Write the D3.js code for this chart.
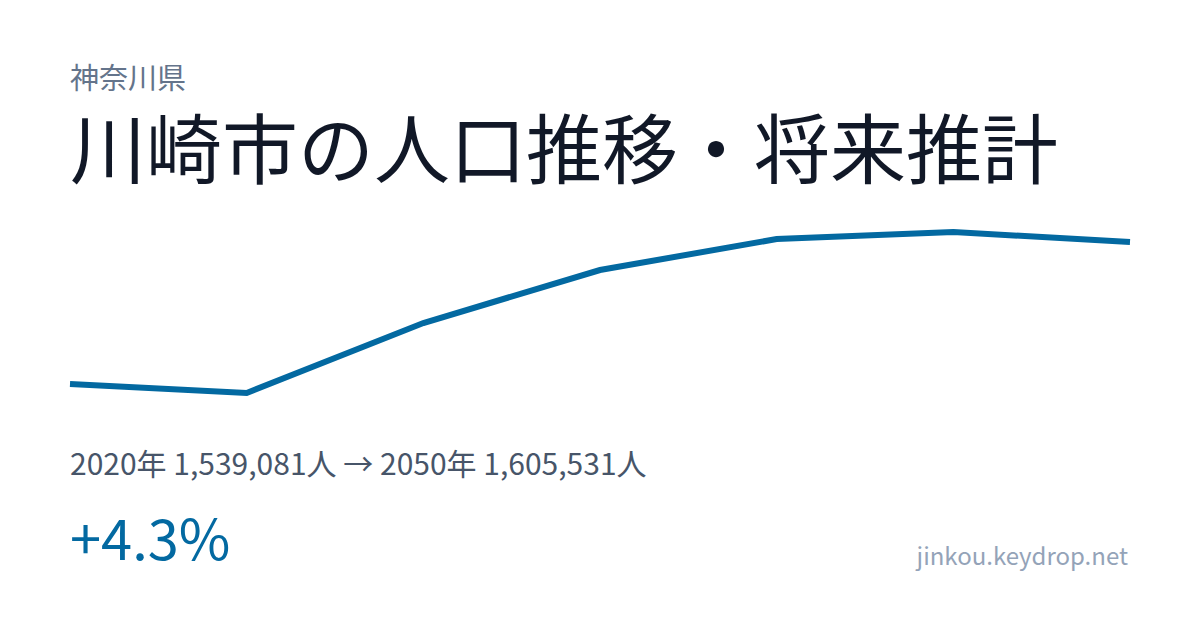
<!DOCTYPE html>
<html>
  <head>
    <meta charset="utf-8" />
    <style>
      body {
        margin: 0;
        background: #fff;
      }
      svg text {
        font-family: "Noto Sans CJK JP", "Noto Sans", sans-serif;
      }
    </style>
  </head>
  <body>
    <svg width="1200" height="630"></svg>
    <script src="https://d3js.org/d3.v7.min.js"></script>
    <script>
      // population by year (ends are given in the text)
      const years = [2020, 2025, 2030, 2035, 2040, 2045, 2050];
      const population = [1539081, 1534870, 1567630, 1592430, 1606940, 1610220, 1605531];

      const prefecture = "神奈川県";
      const title = "川崎市の人口推移・将来推計";
      const siteName = "jinkou.keydrop.net";

      let width = 1200;
      let height = 630;
      let svg = d3.select("svg");

      svg.append("rect").attr("width", width).attr("height", height).attr("fill", "#ffffff");

      let data = years.map((y, i) => ({ year: y, value: population[i] }));

      let x = d3.scaleLinear().domain(d3.extent(years)).range([70, 1130]);
      let y = d3.scaleLinear().domain(d3.extent(population)).range([393, 232]);

      let line = d3
        .line()
        .x((d) => x(d.year))
        .y((d) => y(d.value));

      svg
        .append("path")
        .datum(data)
        .attr("d", line)
        .attr("fill", "none")
        .attr("stroke", "#0369a1")
        .attr("stroke-width", 6)
        .attr("stroke-linejoin", "miter");

      svg
        .append("text")
        .attr("x", 70)
        .attr("y", 89)
        .attr("font-size", 29)
        .attr("fill", "#64748b")
        .text(prefecture);

      svg
        .append("text")
        .attr("x", 70)
        .attr("y", 178)
        .attr("font-size", 76)
        .attr("fill", "#111827")
        .text(title);

      let first = data[0];
      let last = data[data.length - 1];
      let fmt = d3.format(",");
      let change = (last.value / first.value - 1) * 100;

      svg
        .append("text")
        .attr("x", 70)
        .attr("y", 475)
        .attr("font-size", 30)
        .attr("fill", "#475569")
        .text(`${first.year}年 ${fmt(first.value)}人 → ${last.year}年 ${fmt(last.value)}人`);

      svg
        .append("text")
        .attr("x", 70)
        .attr("y", 560)
        .attr("font-size", 56)
        .attr("fill", "#0369a1")
        .text((change >= 0 ? "+" : "") + change.toFixed(1) + "%");

      svg
        .append("text")
        .attr("x", 1128)
        .attr("y", 565)
        .attr("font-size", 24)
        .attr("text-anchor", "end")
        .attr("fill", "#94a3b8")
        .text(siteName);
    </script>
  </body>
</html>
